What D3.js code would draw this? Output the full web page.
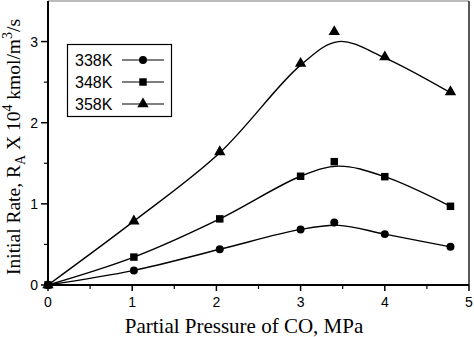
<!DOCTYPE html>
<html>
<head>
<meta charset="utf-8">
<script src="https://cdn.jsdelivr.net/npm/d3@7"></script>
<style>
  body { margin: 0; background: #fff; }
  .tick-label { font-family: "Liberation Sans", Arial, sans-serif; font-size: 14px; fill: #000; }
  .axis-title { font-family: "Liberation Serif", "Times New Roman", serif; font-size: 21px; fill: #000; }
  .legend-label { font-family: "Liberation Sans", Arial, sans-serif; font-size: 16px; fill: #000; }
</style>
</head>
<body>
<svg id="chart" width="474" height="337"></svg>
<script>
// Partial pressure of CO (MPa) where rates were measured
const pressures = [0, 1.02, 2.04, 3.0, 3.4, 4.0, 4.78];

// Measured initial rates, x 10^4 kmol/m3/s
const rate338 = [0, 0.18, 0.44, 0.685, 0.77, 0.627, 0.47];
const rate348 = [0, 0.344, 0.815, 1.34, 1.52, 1.335, 0.97];
const rate358 = [0, 0.787, 1.64, 2.73, 3.12, 2.81, 2.38];

// Smoothed trend lines (fit peaks sit a bit under the 3.4 MPa points)
const fitPressures = [0, 1.02, 2.04, 3.0, 3.45, 4.0, 4.78];
const fit338 = [0, 0.18, 0.44, 0.685, 0.735, 0.627, 0.47];
const fit348 = [0, 0.344, 0.815, 1.34, 1.465, 1.335, 0.97];
const fit358 = [0, 0.787, 1.63, 2.71, 3.0, 2.8, 2.37];

const xTicks = [0, 1, 2, 3, 4, 5];
const yTicks = [0, 1, 2, 3];

const seriesNames = ['338K', '348K', '358K'];
const series = [
  { name: seriesNames[0], rates: rate338, fit: fit338, symbol: d3.symbolCircle, size: 50 },
  { name: seriesNames[1], rates: rate348, fit: fit348, symbol: d3.symbolSquare, size: 56 },
  { name: seriesNames[2], rates: rate358, fit: fit358, symbol: d3.symbolTriangle, size: 56 },
];

const W = 474, H = 337;
const margin = { top: 1, right: 5, bottom: 52, left: 48 };

const svg = d3.select('#chart');

const x = d3.scaleLinear().domain([0, 5]).range([margin.left, W - margin.right]);
const y = d3.scaleLinear().domain([0, 3.5]).range([H - margin.bottom, margin.top]);

// frame: grey top edge, dark right edge
svg.append('line')
  .attr('x1', x(0)).attr('x2', x(5))
  .attr('y1', y(3.5)).attr('y2', y(3.5))
  .attr('stroke', '#bbb').attr('stroke-width', 2);
svg.append('line')
  .attr('x1', x(5)).attr('x2', x(5))
  .attr('y1', y(3.5)).attr('y2', y(0))
  .attr('stroke', '#222').attr('stroke-width', 1.5);

// bottom axis
const xAxis = svg.append('g').attr('transform', `translate(0,${y(0)})`);
xAxis.append('line')
  .attr('x1', x(0)).attr('x2', x(5))
  .attr('stroke', '#000').attr('stroke-width', 2);
xAxis.selectAll('.minor')
  .data(d3.range(0.5, 5, 1))
  .enter().append('line')
  .attr('x1', d => x(d)).attr('x2', d => x(d))
  .attr('y1', 0).attr('y2', 4)
  .attr('stroke', '#000').attr('stroke-width', 1.2);
xAxis.selectAll('.major')
  .data(xTicks)
  .enter().append('line')
  .attr('x1', d => x(d)).attr('x2', d => x(d))
  .attr('y1', 0).attr('y2', 6)
  .attr('stroke', '#000').attr('stroke-width', 1.5);
xAxis.selectAll('text')
  .data(xTicks)
  .enter().append('text')
  .attr('class', 'tick-label')
  .attr('x', d => x(d))
  .attr('y', 22)
  .attr('text-anchor', 'middle')
  .text(d => d);

// left axis
const yAxis = svg.append('g').attr('transform', `translate(${x(0)},0)`);
yAxis.append('line')
  .attr('y1', y(0)).attr('y2', y(3.5))
  .attr('stroke', '#000').attr('stroke-width', 2);
yAxis.selectAll('.minor')
  .data(d3.range(0.5, 3.5, 1))
  .enter().append('line')
  .attr('y1', d => y(d)).attr('y2', d => y(d))
  .attr('x1', 0).attr('x2', -4)
  .attr('stroke', '#000').attr('stroke-width', 1.2);
yAxis.selectAll('.major')
  .data(yTicks)
  .enter().append('line')
  .attr('y1', d => y(d)).attr('y2', d => y(d))
  .attr('x1', 0).attr('x2', -7)
  .attr('stroke', '#000').attr('stroke-width', 1.5);
yAxis.selectAll('text')
  .data(yTicks)
  .enter().append('text')
  .attr('class', 'tick-label')
  .attr('x', -10)
  .attr('y', d => y(d))
  .attr('dy', '0.36em')
  .attr('text-anchor', 'end')
  .text(d => d);

// axis titles
svg.append('text')
  .attr('class', 'axis-title')
  .attr('x', 244)
  .attr('y', 333)
  .attr('text-anchor', 'middle')
  .text('Partial Pressure of CO, MPa');

const yTitle = svg.append('text')
  .attr('class', 'axis-title')
  .style('font-size', '19.5px')
  .attr('transform', 'translate(20,147) rotate(-90)')
  .attr('text-anchor', 'middle');
yTitle.append('tspan').text('Initial Rate, R');
yTitle.append('tspan').attr('font-size', '14px').attr('dy', 5).text('A');
yTitle.append('tspan').attr('dy', -5).text(' X 10');
yTitle.append('tspan').attr('font-size', '14px').attr('dy', -8).text('4');
yTitle.append('tspan').attr('dy', 8).text(' kmol/m');
yTitle.append('tspan').attr('font-size', '14px').attr('dy', -8).text('3');
yTitle.append('tspan').attr('dy', 8).text('/s');

// fitted curves
const line = d3.line()
  .x((d, i) => x(fitPressures[i]))
  .y(d => y(d))
  .curve(d3.curveCatmullRom.alpha(0.5));

const plot = svg.append('g');
series.forEach(s => {
  plot.append('path')
    .attr('d', line(s.fit))
    .attr('fill', 'none')
    .attr('stroke', '#000')
    .attr('stroke-width', 1.4);
});

// measured points
series.forEach(s => {
  const sym = d3.symbol().type(s.symbol).size(s.size);
  plot.selectAll(null)
    .data(s.rates)
    .enter().append('path')
    .attr('d', sym)
    .attr('transform', (d, i) => `translate(${x(pressures[i])},${y(d)})`)
    .attr('fill', '#000');
});

// legend
const legend = svg.append('g');
legend.append('rect')
  .attr('x', 67.5).attr('y', 44.5)
  .attr('width', 104).attr('height', 72)
  .attr('fill', '#fff')
  .attr('stroke', '#000').attr('stroke-width', 1.2);
series.forEach((s, i) => {
  const cy = 60 + i * 22;
  legend.append('text')
    .attr('class', 'legend-label')
    .attr('x', 75).attr('y', cy).attr('dy', '0.36em')
    .text(s.name);
  legend.append('line')
    .attr('x1', 122).attr('x2', 164)
    .attr('y1', cy).attr('y2', cy)
    .attr('stroke', '#000').attr('stroke-width', 1.2);
  legend.append('path')
    .attr('d', d3.symbol().type(s.symbol).size(s.size)())
    .attr('transform', `translate(143,${cy})`)
    .attr('fill', '#000');
});
</script>
</body>
</html>
